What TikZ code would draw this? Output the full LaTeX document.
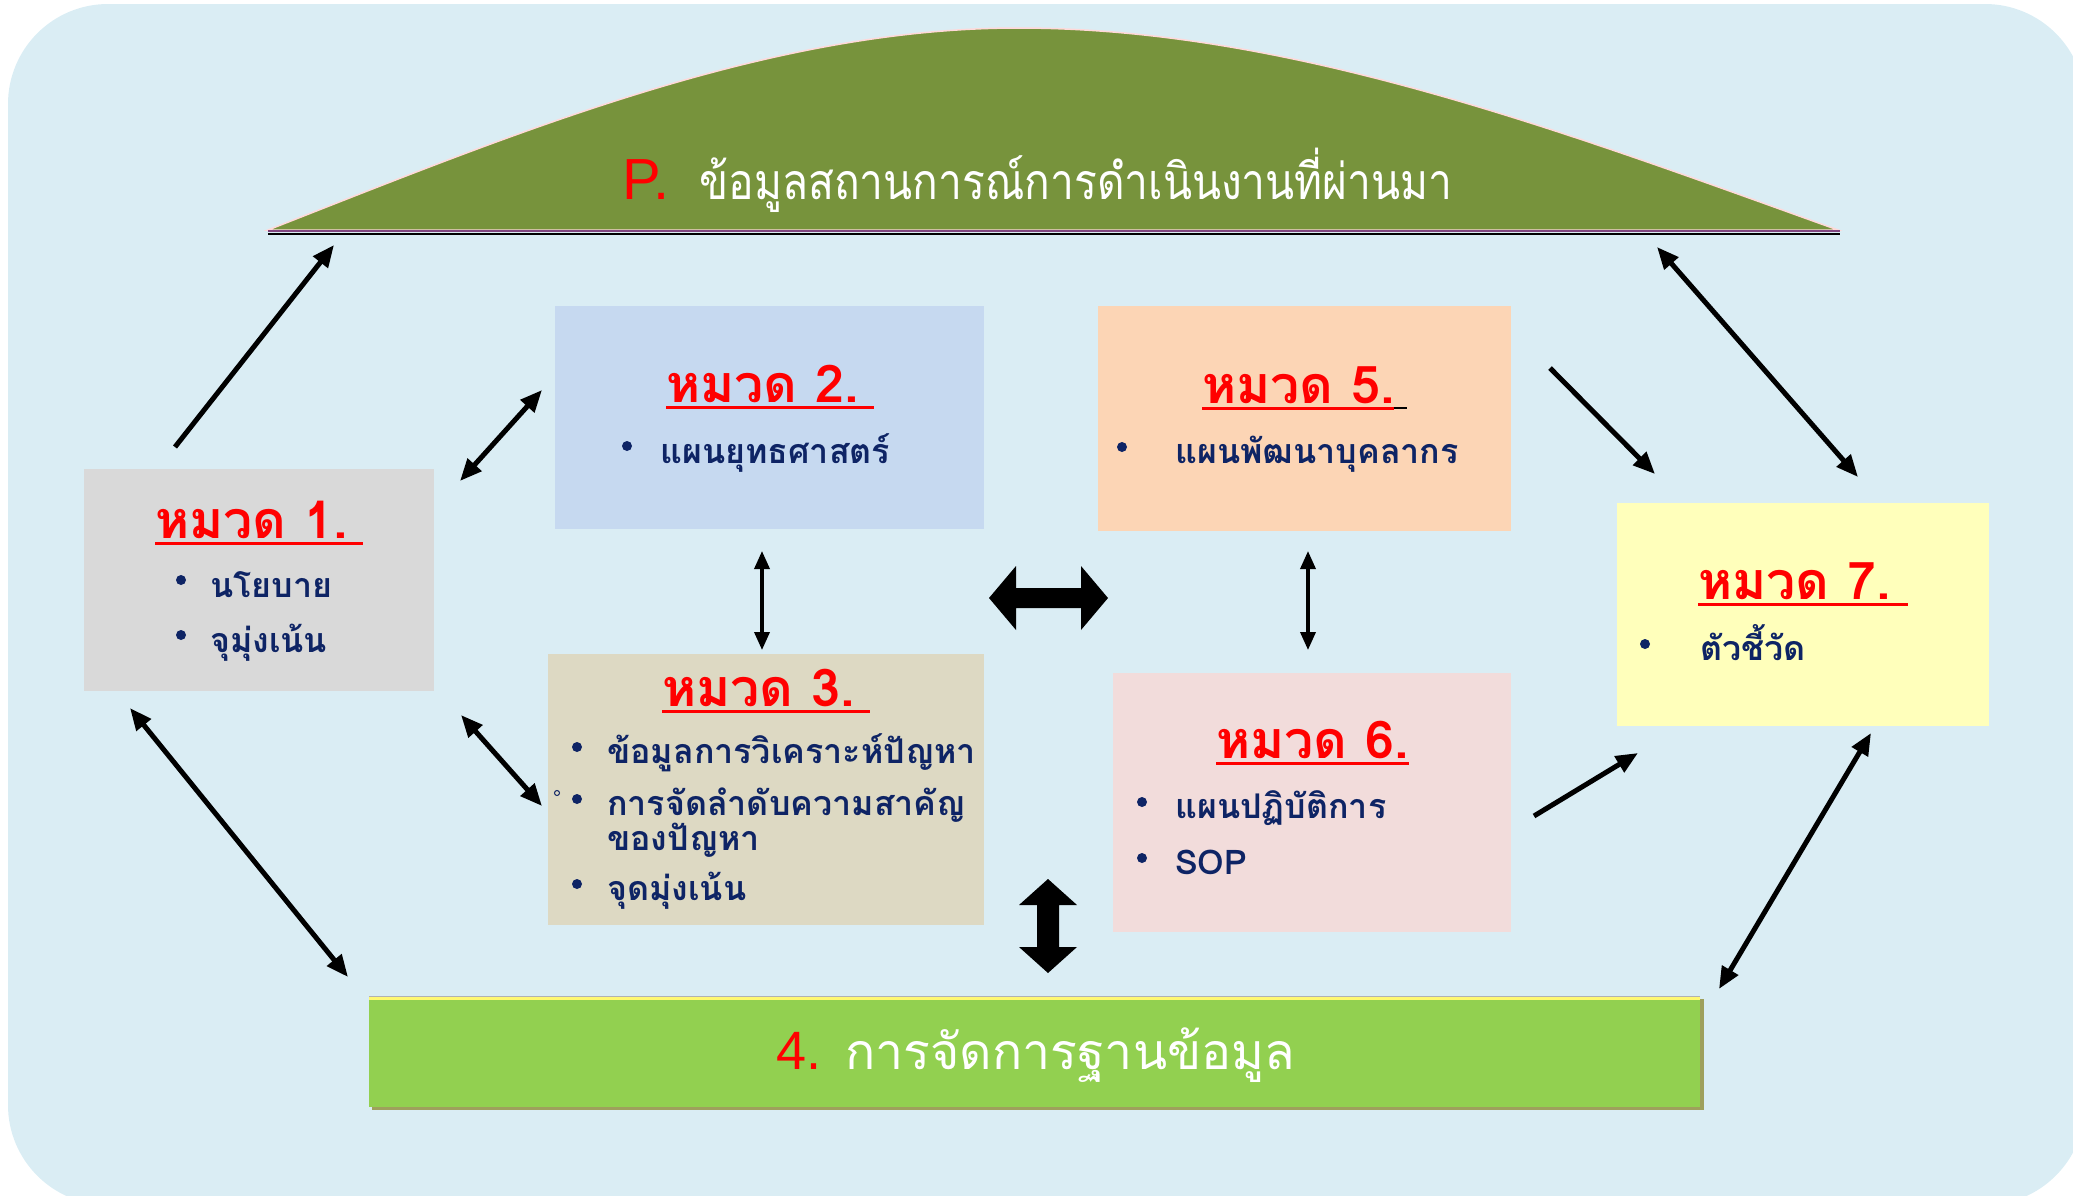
\documentclass[tikz,border=0pt]{standalone}
\usepackage{fontspec}
\usetikzlibrary{arrows.meta}
\newfontfamily\thai[Script=Thai]{Loma}
\newfontfamily\thainarrow[Script=Thai,FakeStretch=0.85]{Loma}
\newfontfamily\latin{Liberation Sans}
\definecolor{bgblue}{HTML}{DAEDF4}
\definecolor{hill}{HTML}{77933C}
\definecolor{navy}{HTML}{0E2465}
\definecolor{cA}{HTML}{D9D9D9}
\definecolor{cB}{HTML}{C6D9F0}
\definecolor{cC}{HTML}{DDD9C3}
\definecolor{cE}{HTML}{FCD5B5}
\definecolor{cF}{HTML}{F2DCDB}
\definecolor{cG}{HTML}{FFFFBB}
\definecolor{dbgreen}{HTML}{92D050}
\definecolor{dbshadow}{HTML}{9EA05C}
\tikzset{
  panel/.style={inner sep=0pt, outer sep=0pt},
  head/.style={anchor=base west, inner sep=0pt, text=red, font=\thai\bfseries\fontsize{52}{58}\selectfont},
  item/.style={anchor=base west, inner sep=0pt, text=navy, font=\thai\bfseries\fontsize{34}{40}\selectfont},
  uline/.style={red, line width=3pt},
  dot/.style={navy},
  link/.style={line width=5pt, -{Triangle[length=22pt,width=18pt]}},
  link2/.style={line width=5pt, {Triangle[length=22pt,width=18pt]}-{Triangle[length=22pt,width=18pt]}},
  thin2/.style={line width=3.5pt, {Triangle[length=18pt,width=15pt]}-{Triangle[length=18pt,width=15pt]}}
}
\begin{document}
\begin{tikzpicture}[x=1pt,y=-1pt]
\useasboundingbox (0,0) rectangle (2073,1195);
\clip (0,0) rectangle (2073,1195);
% background panel
\fill[bgblue, rounded corners=100pt] (8,4) rectangle (2085,1205);

% hill with title
\fill[hill, draw=pink!60!white, line width=1.5pt] (268,230) .. controls (518,132) and (768,28) .. (1018,28)
  .. controls (1291,28) and (1565,132) .. (1838,230) -- cycle;
\draw[violet!45!gray, line width=2pt] (268,231) -- (1840,231);
\draw[black, line width=2pt] (268,233.5) -- (1840,233.5);
\coordinate (hillL) at (334,245);
\coordinate (hillR) at (1657,247);
\node[anchor=base west, inner sep=0pt, text=white, font=\thainarrow\fontsize{50}{56}\selectfont] (title) at (622,199)
  {\textcolor{red}{\latin\fontsize{58}{62}\selectfont P.}\hspace{30pt}ข้อมูลสถานการณ์การดำเนินงานที่ผ่านมา};

% category panels
\node[panel, fill=cA, minimum width=350pt, minimum height=222pt] (b1) at (259,580) {};
\node[panel, fill=cB, minimum width=429pt, minimum height=223pt] (b2) at (769.5,417.5) {};
\node[panel, fill=cC, minimum width=436pt, minimum height=271pt] (b3) at (766,789.5) {};
\node[panel, fill=cE, minimum width=413pt, minimum height=225pt] (b5) at (1304.5,418.5) {};
\node[panel, fill=cF, minimum width=398pt, minimum height=259pt] (b6) at (1312,802.5) {};
\node[panel, fill=cG, minimum width=372pt, minimum height=223pt] (b7) at (1803,614.5) {};

% data management bar
\fill[dbshadow] (372,999) rectangle (1704,1110);
\node[panel, fill=dbgreen, minimum width=1331pt, minimum height=111pt] (b4) at (1034.5,1051.5) {};
\fill[yellow!55!white] (369,996) rectangle (1700,999.5);
\draw[gray!60, line width=1pt] (369,996) -- (1700,996);
\node[anchor=base west, inner sep=0pt, text=white, font=\thai\fontsize{50}{58}\selectfont] (t4) at (776,1069)
  {\textcolor{red}{\latin\fontsize{54}{58}\selectfont 4.}\hspace{24pt}การจัดการฐานข้อมูล};

% panel 1
\node[head] (h1) at (155,538) {หมวด 1.};
\draw[uline] (155,543) -- (363,543);
\fill[dot] (181,580) circle (5);
\node[item] (i11) at (210,597) {นโยบาย};
\fill[dot] (181,635) circle (5);
\node[item] (i12) at (210,652) {จุมุ่งเน้น};

% panel 2
\node[head] (h2) at (666,402) {หมวด 2.};
\draw[uline] (666,407) -- (874,407);
\fill[dot] (627,446) circle (5);
\node[item] (i21) at (660,463) {แผนยุทธศาสตร์};

% panel 3
\node[head] (h3) at (662,706) {หมวด 3.};
\draw[uline] (662,711) -- (870,711);
\fill[dot] (577,747) circle (5);
\node[item] (i31) at (607,763) {ข้อมูลการวิเคราะห์ปัญหา};
\draw[navy, line width=1pt] (557,793) circle (2.5);
\fill[dot] (577,799) circle (5);
\node[item] (i32) at (607,815) {การจัดลำดับความสาคัญ};
\node[item] (i33) at (607,850) {ของปัญหา};
\fill[dot] (577,884) circle (5);
\node[item] (i34) at (607,900) {จุดมุ่งเน้น};

% panel 5
\node[head] (h5) at (1202,403) {หมวด 5.};
\draw[uline] (1202,408) -- (1394,408);
\draw[black, line width=2pt] (1394,408) -- (1407,408);
\fill[dot] (1122,447) circle (5);
\node[item] (i51) at (1175,463) {แผนพัฒนาบุคลากร};

% panel 6
\node[head] (h6) at (1216,758) {หมวด 6.};
\draw[uline] (1216,763) -- (1409,763);
\fill[dot] (1142,802) circle (5);
\node[item] (i61) at (1175,818) {แผนปฏิบัติการ};
\fill[dot] (1142,858) circle (5);
\node[item] (i62) at (1175,874) {SOP};

% panel 7
\node[head] (h7) at (1698,599) {หมวด 7.};
\draw[uline] (1698,604) -- (1908,604);
\fill[dot] (1645,644) circle (5);
\node[item] (i71) at (1700,660) {ตัวชี้วัด};

% connectors
\draw[link] ([shift={(-84,-22)}]b1.north) -- (hillL);
\draw[link2] ([shift={(26,12)}]b1.north east) -- ([shift={(-13,84)}]b2.north west);
\draw[link2] ([shift={(27,24)}]b1.south east) -- ([shift={(-6,152)}]b3.north west);
\draw[link2] ([shift={(46,17)}]b1.south west) -- ([shift={(-21,-19)}]b4.north west);
\draw[thin2] ([shift={(-7.5,22)}]b2.south) -- ([shift={(-4,-4)}]b3.north);
\draw[thin2] ([shift={(3.5,20)}]b5.south) -- ([shift={(-4,-23)}]b6.north);
\draw[link] ([shift={(39,62)}]b5.north east) -- ([shift={(38,-29)}]b7.north west);
\draw[link2] (hillR) -- ([shift={(55,-26)}]b7.north);
\draw[link] ([shift={(23,-116)}]b6.south east) -- ([shift={(21,27)}]b7.south west);
\draw[link2] ([shift={(68,7)}]b7.south) -- ([shift={(19,-7)}]b4.north east);

% block arrows between the central columns
\fill[black] (989,598) -- (1016,566) -- (1016,588) -- (1081,588) -- (1081,566) -- (1108,598)
  -- (1081,630) -- (1081,608) -- (1016,608) -- (1016,630) -- cycle;
\fill[black] (1048,879) -- (1077,905) -- (1059,905) -- (1059,947) -- (1077,947) -- (1048,973)
  -- (1019,947) -- (1037,947) -- (1037,905) -- (1019,905) -- cycle;
\end{tikzpicture}
\end{document}
